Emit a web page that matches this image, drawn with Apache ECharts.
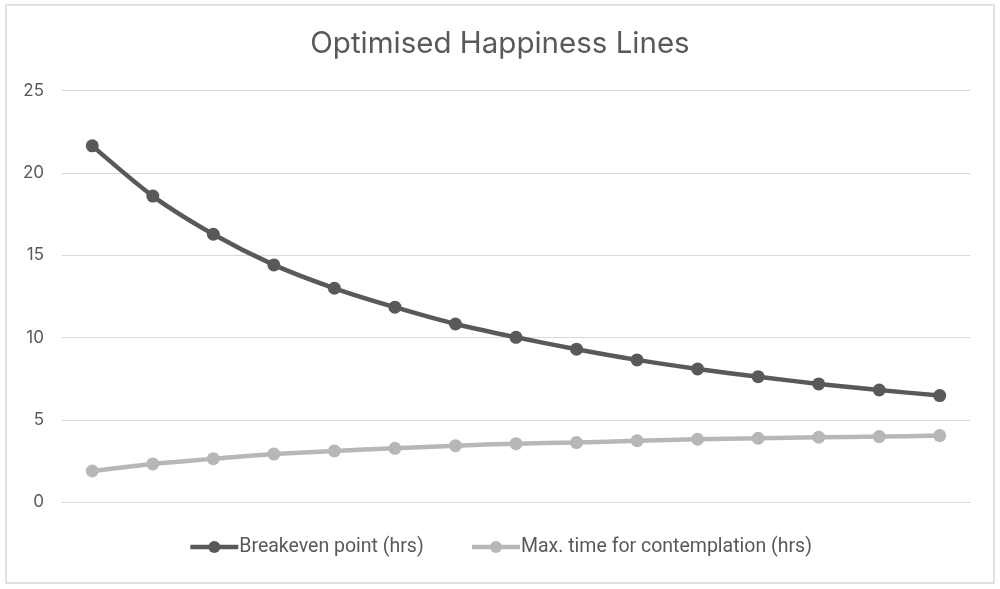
<!DOCTYPE html>
<html>
<head>
<meta charset="utf-8">
<script src="https://cdn.jsdelivr.net/npm/echarts@6/dist/echarts.min.js"></script>
<style>
html,body{margin:0;padding:0;background:#fff;}
#chart{width:1000px;height:589px;}
</style>
</head>
<body>
<div id="chart"></div>
<script>
const categories = ['1','2','3','4','5','6','7','8','9','10','11','12','13','14','15'];
const breakeven = [21.65, 18.6, 16.28, 14.42, 13.0, 11.85, 10.83, 10.02, 9.3, 8.65, 8.1, 7.63, 7.19, 6.82, 6.48];
const contemplation = [1.9, 2.33, 2.65, 2.93, 3.12, 3.28, 3.44, 3.56, 3.63, 3.74, 3.83, 3.89, 3.95, 3.99, 4.05];
const seriesNames = ['Breakeven point (hrs)', 'Max. time for contemplation (hrs)'];
const yTicks = [0, 5, 10, 15, 20, 25];

const chart = echarts.init(document.getElementById('chart'));
const font = 'Inter, "Open Sans", sans-serif';
chart.setOption({
  animation: false,
  backgroundColor: '#fff',
  graphic: [{
    type: 'rect',
    shape: {x: 6, y: 5, width: 988, height: 578},
    style: {fill: 'none', stroke: '#d9d9d9', lineWidth: 1.5},
    silent: true
  }],
  title: {
    text: 'Optimised Happiness Lines',
    left: 'center',
    top: 24,
    textStyle: {fontFamily: font, fontSize: 29.5, fontWeight: 'normal', color: '#595959'}
  },
  legend: {
    bottom: 27,
    left: 'center',
    itemWidth: 48,
    itemHeight: 15,
    itemGap: 46,
    lineStyle: {width: 4.5},
    textStyle: {fontFamily: 'Roboto, sans-serif', fontSize: 19.5, color: '#595959', padding: [0,0,0,-4]},
    data: seriesNames
  },
  grid: {left: 62, right: 30, top: 90.7, bottom: 86.7, containLabel: false},
  xAxis: {
    type: 'category',
    data: categories,
    boundaryGap: true,
    axisLine: {show: true, lineStyle: {color: '#d9d9d9', width: 1}},
    axisTick: {show: false},
    axisLabel: {show: false}
  },
  yAxis: {
    type: 'value',
    min: yTicks[0],
    max: yTicks[yTicks.length - 1],
    interval: 5,
    axisLine: {show: false},
    axisTick: {show: false},
    axisLabel: {fontFamily: font, fontSize: 17, color: '#595959', margin: 18},
    splitLine: {lineStyle: {color: '#d9d9d9', width: 1}}
  },
  series: [
    {
      name: seriesNames[0],
      type: 'line',
      data: breakeven,
      smooth: 0.25,
      symbol: 'circle',
      symbolSize: 13,
      lineStyle: {color: '#595959', width: 4.5},
      itemStyle: {color: '#595959'}
    },
    {
      name: seriesNames[1],
      type: 'line',
      data: contemplation,
      smooth: 0.25,
      symbol: 'circle',
      symbolSize: 13,
      lineStyle: {color: '#b7b7b7', width: 4.5},
      itemStyle: {color: '#b7b7b7'}
    }
  ]
});
</script>
</body>
</html>
